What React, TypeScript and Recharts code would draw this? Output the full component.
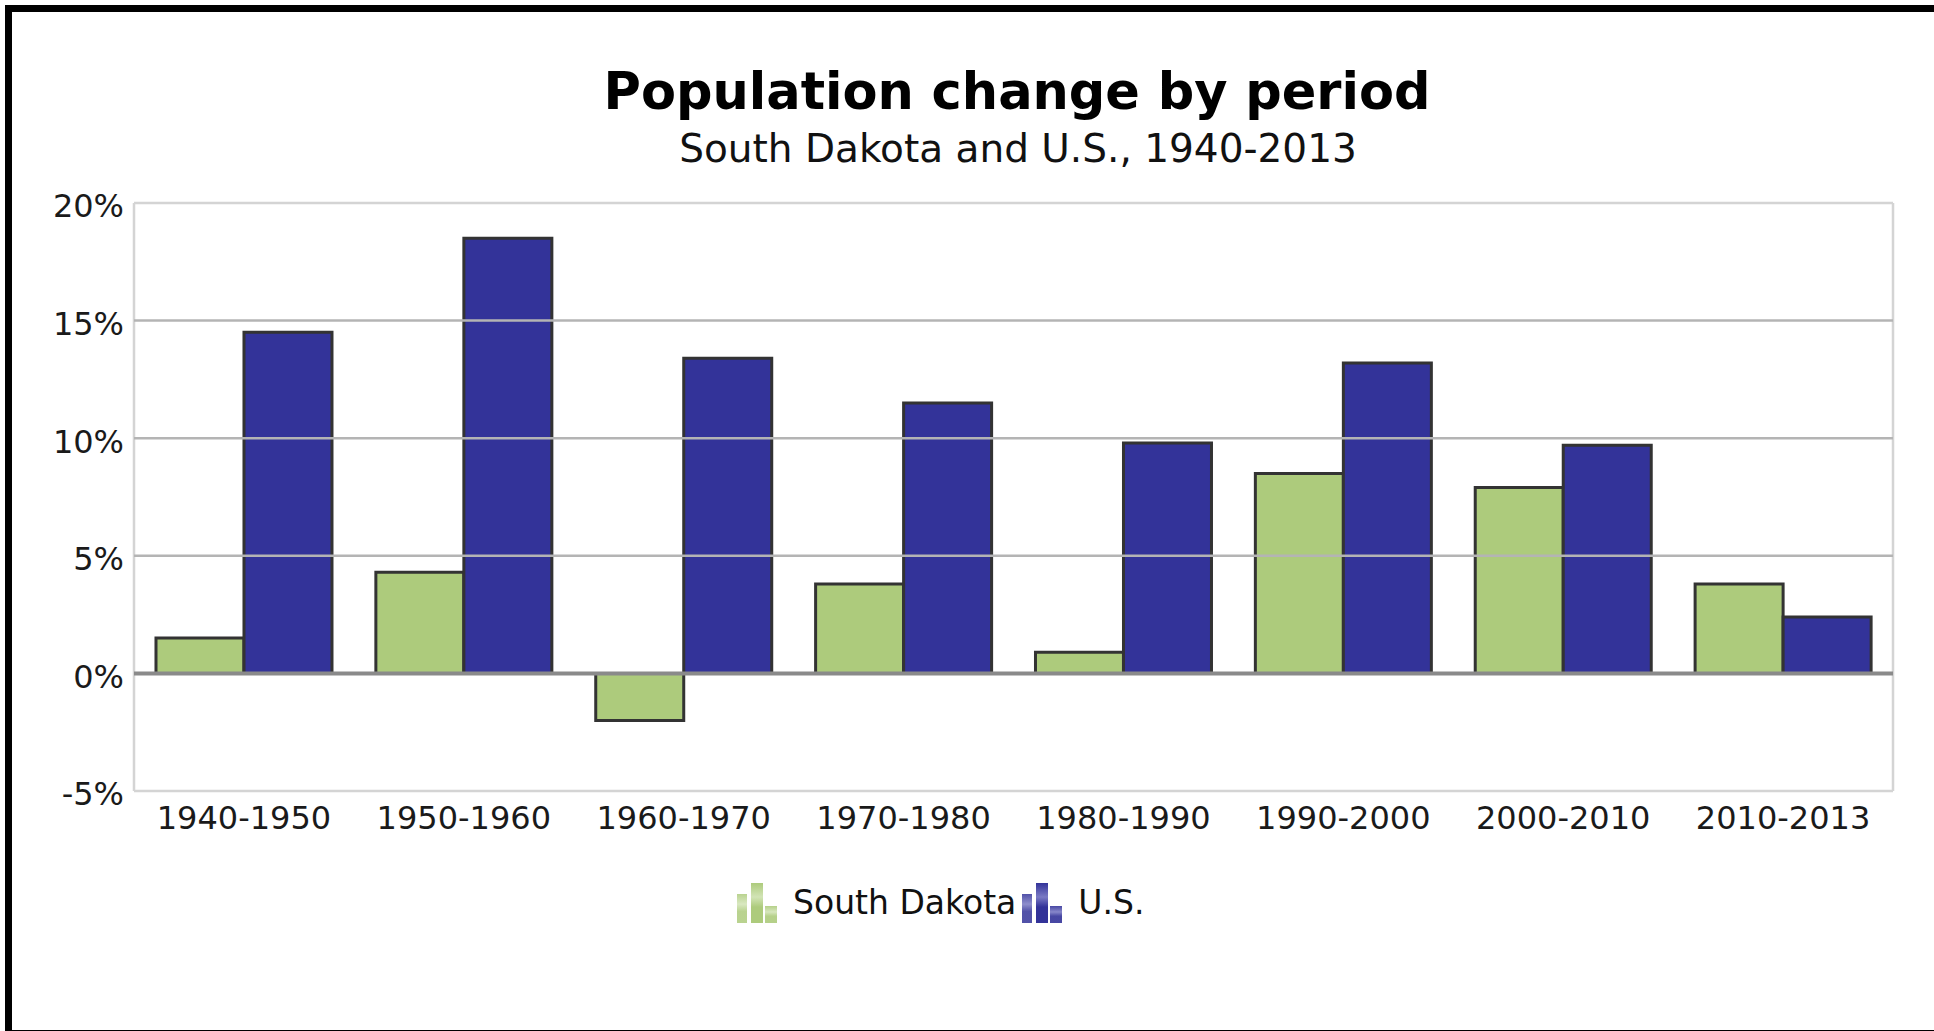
import React from 'react';
import { BarChart, Bar, XAxis, YAxis, CartesianGrid, ReferenceLine, Legend } from 'recharts';

// Population change (%) by decade
const periods = ['1940-1950', '1950-1960', '1960-1970', '1970-1980', '1980-1990', '1990-2000', '2000-2010', '2010-2013'];
const southDakota = [1.5, 4.3, -2.0, 3.8, 0.9, 8.5, 7.9, 3.8];
const unitedStates = [14.5, 18.5, 13.4, 11.5, 9.8, 13.2, 9.7, 2.4];

const yTicks = [-5, 0, 5, 10, 15, 20];
const innerGridValues = [5, 10, 15];
const frameValues = [-5, 20];

const seriesKeys = ['sd', 'us'];
const seriesNames = ['South Dakota', 'U.S.'];
const seriesColors = ['#adcb7c', '#333399'];
const seriesHighlights = ['#d2e4b6', '#7a7ac4'];

const data = periods.map((period, i) => ({ period, sd: southDakota[i], us: unitedStates[i] }));

const FONT = '"DejaVu Sans", Verdana, sans-serif';
const W = 1934;
const H = 1031;

const LegendIcon = ({ color, light, id }: { color: string; light: string; id: string }) => (
  <svg width={41} height={40} style={{ display: 'block' }}>
    <defs>
      <linearGradient id={id} x1="0" y1="0" x2="0" y2="1">
        <stop offset="0%" stopColor={color} />
        <stop offset="35%" stopColor={light} />
        <stop offset="60%" stopColor={color} />
        <stop offset="100%" stopColor={color} />
      </linearGradient>
    </defs>
    <rect x={0} y={11} width={10} height={29} fill={`url(#${id})`} opacity={0.85} />
    <rect x={14} y={0} width={12} height={40} fill={`url(#${id})`} />
    <rect x={28} y={23} width={12} height={17} fill={`url(#${id})`} opacity={0.9} />
  </svg>
);

const renderLegend = () => (
  <div style={{ display: 'flex', alignItems: 'center', fontFamily: FONT, fontSize: 33, lineHeight: '40px', color: '#111' }}>
    {seriesNames.map((name, i) => (
      <div key={name} style={{ display: 'flex', alignItems: 'center' }}>
        <LegendIcon color={seriesColors[i]} light={seriesHighlights[i]} id={`legend-grad-${i}`} />
        <span style={{ marginLeft: 15, marginRight: 6, whiteSpace: 'nowrap' }}>{name}</span>
      </div>
    ))}
  </div>
);

export default function App() {
  return (
    <div style={{ position: 'relative', width: W, height: H, overflow: 'hidden', background: '#fff' }}>
      <style>{'body{margin:0}'}</style>

      <div
        style={{
          position: 'absolute', left: 0, width: 2034, top: 62, textAlign: 'center',
          fontFamily: FONT, fontWeight: 'bold', fontSize: 51, lineHeight: '60px', color: '#000',
        }}
      >
        Population change by period
      </div>
      <div
        style={{
          position: 'absolute', left: 0, width: 2036, top: 126, textAlign: 'center',
          fontFamily: FONT, fontSize: 39, lineHeight: '46px', color: '#111',
        }}
      >
        South Dakota and U.S., 1940-2013
      </div>

      <div style={{ position: 'absolute', left: 0, top: 0 }}>
        <BarChart
          width={W}
          height={H}
          data={data}
          margin={{ top: 203, right: 41, bottom: 180, left: 0 }}
          barCategoryGap="10%"
          barGap={0}
        >
          <CartesianGrid horizontal={false} verticalPoints={[134, 1893]} stroke="#d4d4d4" strokeWidth={2.5} />
          {frameValues.map(v => (
            <ReferenceLine key={`f${v}`} y={v} stroke="#d4d4d4" strokeWidth={2.5} />
          ))}
          {innerGridValues.map(v => (
            <ReferenceLine key={`g${v}`} y={v} stroke="#b4b4b4" strokeWidth={2.5} />
          ))}
          <XAxis
            dataKey="period"
            height={60}
            axisLine={false}
            tickLine={false}
            tickSize={0}
            tickMargin={15}
            interval={0}
            tick={{ fontSize: 32, fill: '#1a1a1a', fontFamily: FONT }}
          />
          <YAxis
            domain={[-5, 20]}
            ticks={yTicks}
            width={134}
            axisLine={false}
            tickLine={false}
            tickSize={0}
            tickMargin={10}
            tickFormatter={(v: number) => `${v}%`}
            tick={{ fontSize: 32, fill: '#1a1a1a', fontFamily: FONT, dy: 3 }}
          />
          <Legend
            layout="horizontal"
            verticalAlign="middle"
            align="center"
            content={renderLegend}
            wrapperStyle={{ left: 737, top: 883, width: 'auto', height: 'auto' }}
          />
          {seriesKeys.map((key, i) => (
            <Bar
              key={key}
              dataKey={key}
              name={seriesNames[i]}
              fill={seriesColors[i]}
              stroke="#333333"
              strokeWidth={3}
              isAnimationActive={false}
            />
          ))}
          <ReferenceLine y={0} stroke="#8a8a8a" strokeWidth={4} />
        </BarChart>
      </div>

      <div
        style={{
          position: 'absolute', left: 5, top: 5, width: 2100, height: 1032,
          border: '7px solid #000', boxSizing: 'border-box', pointerEvents: 'none',
        }}
      />
    </div>
  );
}
